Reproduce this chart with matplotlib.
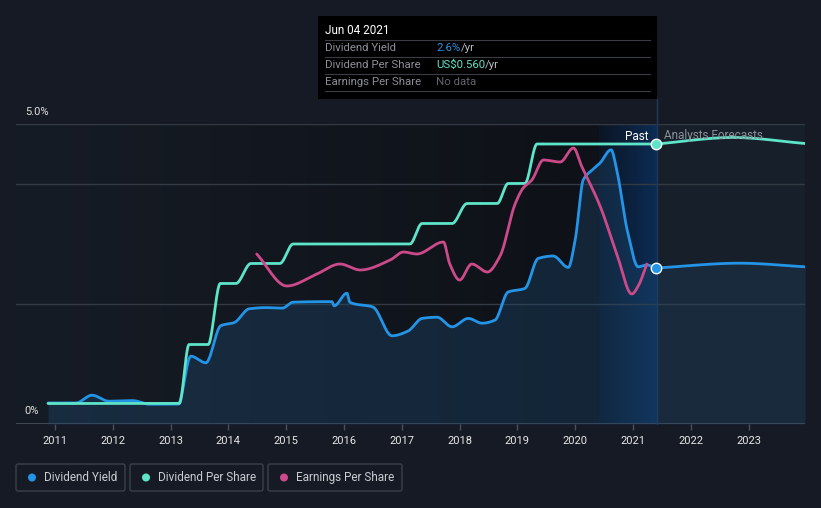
import numpy as np
import matplotlib
matplotlib.use('Agg')
import matplotlib.pyplot as plt
from matplotlib.patches import Rectangle, FancyBboxPatch, Circle

plt.rcParams['font.family'] = ['Roboto', 'DejaVu Sans']

# ---------------- data ----------------
yield_years = [2010.88, 2011.36, 2011.64, 2011.93, 2012.35, 2012.63, 2013.13, 2013.35,
               2013.61, 2013.87, 2014.10, 2014.36, 2014.65, 2014.93, 2015.12, 2015.79,
               2015.83, 2016.05, 2016.10, 2016.50, 2016.83, 2017.11, 2017.35, 2017.61,
               2017.87, 2018.15, 2018.39, 2018.61, 2018.84, 2019.13, 2019.36, 2019.62,
               2019.88, 2020.00, 2020.14, 2020.29, 2020.43, 2020.62, 2020.72, 2020.90,
               2021.09, 2021.24, 2021.40]
yield_pct = [0.35, 0.35, 0.48, 0.38, 0.39, 0.33, 0.33, 1.13,
             1.02, 1.64, 1.69, 1.92, 1.94, 1.93, 2.03, 2.04,
             1.97, 2.18, 2.03, 1.95, 1.47, 1.55, 1.76, 1.78,
             1.62, 1.76, 1.68, 1.73, 2.20, 2.26, 2.76, 2.80,
             2.61, 3.07, 4.07, 4.23, 4.35, 4.57, 4.23, 3.23,
             2.62, 2.65, 2.60]
yield_fc_years = [2021.40, 2022.85, 2023.98]
yield_fc = [2.60, 2.68, 2.62]

dps_years = [2010.88, 2013.15, 2013.32, 2013.65, 2013.86, 2014.13, 2014.39, 2014.89,
             2015.12, 2017.14, 2017.35, 2017.87, 2018.13, 2018.65, 2018.84, 2019.13,
             2019.34, 2021.40]
dps = [0.041, 0.041, 0.159, 0.159, 0.281, 0.281, 0.321, 0.321,
       0.360, 0.360, 0.401, 0.401, 0.441, 0.441, 0.481, 0.481,
       0.560, 0.560]
dps_fc_years = [2021.40, 2022.73, 2023.98]
dps_fc = [0.560, 0.573, 0.561]

eps_years = [2014.49, 2015.01, 2015.53, 2015.93, 2016.28, 2016.80, 2017.03, 2017.26,
             2017.72, 2017.83, 2018.00, 2018.21, 2018.48, 2018.70, 2018.96, 2019.10,
             2019.25, 2019.45, 2019.74, 2019.97, 2020.11, 2020.43, 2020.72, 2020.98,
             2021.09, 2021.24]
eps = [0.85, 0.69, 0.75, 0.80, 0.77, 0.82, 0.86, 0.85,
       0.91, 0.80, 0.72, 0.80, 0.76, 0.84, 1.10, 1.18,
       1.22, 1.32, 1.31, 1.38, 1.29, 1.09, 0.85, 0.65,
       0.69, 0.80]

year_ticks = list(range(2011, 2024))

# ---------------- helpers ----------------
def monotone(x, y, per=40):
    x = np.asarray(x, float); y = np.asarray(y, float)
    n = len(x)
    h = np.diff(x); d = np.diff(y) / h
    m = np.zeros(n)
    m[0] = d[0]; m[-1] = d[-1]
    for k in range(1, n - 1):
        if d[k - 1] * d[k] <= 0:
            m[k] = 0.0
        else:
            w1 = 2 * h[k] + h[k - 1]; w2 = h[k] + 2 * h[k - 1]
            m[k] = (w1 + w2) / (w1 / d[k - 1] + w2 / d[k])
    xs, ys = [], []
    for k in range(n - 1):
        t = np.linspace(0, 1, per, endpoint=(k == n - 2))
        h00 = 2 * t**3 - 3 * t**2 + 1; h10 = t**3 - 2 * t**2 + t
        h01 = -2 * t**3 + 3 * t**2; h11 = t**3 - t**2
        xs.append(x[k] + t * h[k])
        ys.append(h00 * y[k] + h10 * h[k] * m[k] + h01 * y[k + 1] + h11 * h[k] * m[k + 1])
    return np.concatenate(xs), np.concatenate(ys)

W, H = 821, 508
BG = '#151a24'
BLUE = '#2394e6'
TEAL = '#5ee4c8'
PINK = '#cc4a8a'

fig = plt.figure(figsize=(W / 100, H / 100), dpi=100, facecolor=BG)

def px2x(px):
    return 2011 + (px - 55) / 57.8

x0, x1 = px2x(16), px2x(805)
band0, band1 = px2x(599), px2x(657)

ax = fig.add_axes([16 / W, (H - 424) / H, (805 - 16) / W, 300 / H])
ax.set_facecolor('#171f2a')
for s in ax.spines.values():
    s.set_visible(False)

# backgrounds
past_grad = np.linspace(0, 1, 256)[None, :]
c_left = np.array([0x16, 0x1c, 0x26]) / 255
c_right = np.array([0x0e, 0x11, 0x17]) / 255
img = c_left[None, None, :] * (1 - past_grad[..., None]) + c_right[None, None, :] * past_grad[..., None]
ax.imshow(img, extent=[x0, band0, 0, 5], aspect='auto', zorder=0, interpolation='bicubic')
b_left = np.array([0x0b, 0x15, 0x24]) / 255
b_right = np.array([0x0c, 0x2c, 0x54]) / 255
img2 = b_left[None, None, :] * (1 - past_grad[..., None]) + b_right[None, None, :] * past_grad[..., None]
ax.imshow(img2, extent=[band0, band1, 0, 5], aspect='auto', zorder=0, interpolation='bicubic')

# gridlines
for g in [2.0, 4.0, 5.0]:
    ax.axhline(g, color='#343a43', lw=1, zorder=1)
ax.axhline(0, color='#4a4f58', lw=1.2, zorder=1)

# "now" vertical line (extends up to the tooltip)
ax.plot([band1, band1], [0, 5.42], color='#1d3a60', lw=1, zorder=1.5, clip_on=False)

# dividend yield
xs, ys = monotone(yield_years, yield_pct)
xf, yf = monotone(yield_fc_years, yield_fc)
ax.fill_between(xs, 0, ys, color='#1f4c75', alpha=0.35, lw=0, zorder=2)
ax.fill_between(xf, 0, yf, color='#1f4c75', alpha=0.25, lw=0, zorder=2)
ax.plot(xs, ys, color=BLUE, lw=2, zorder=5, solid_capstyle='round')
ax.plot(xf, yf, color=BLUE, lw=2, zorder=5, solid_capstyle='round')

ax.set_xlim(x0, x1)
ax.set_ylim(0, 5)
ax.set_yticks([])
ax.set_xticks(year_ticks)
ax.set_xticklabels([str(y) for y in year_ticks], color='#e8e8e8', fontsize=8)
ax.tick_params(axis='x', length=4, color='#4a4f58', pad=5, width=1)

# dividend per share
ax2 = ax.twinx()
ax2.patch.set_visible(False)
ax2.set_ylim(0, 0.6)
ax2.axis('off')
xd, yd = monotone(dps_years, dps)
xdf, ydf = monotone(dps_fc_years, dps_fc)
ax2.plot(xd, yd, color=TEAL, lw=2, zorder=5, solid_capstyle='round')
ax2.plot(xdf, ydf, color=TEAL, lw=2, zorder=5, solid_capstyle='round')

# earnings per share
ax3 = ax.twinx()
ax3.patch.set_visible(False)
ax3.set_ylim(0, 1.5)
ax3.axis('off')
xe, ye = monotone(eps_years, eps)
ax3.plot(xe, ye, color=PINK, lw=2, zorder=4, solid_capstyle='round')
ax3.set_xlim(x0, x1)
ax2.set_xlim(x0, x1)

# markers at latest point (drawn on the top-most twin so nothing covers them)
ax3.plot([yield_years[-1]], [yield_pct[-1]], 'o', ms=7.5, mfc=BLUE, mec='white', mew=1,
         zorder=8, transform=ax.transData)
ax3.plot([dps_years[-1]], [dps[-1]], 'o', ms=7.5, mfc=TEAL, mec='white', mew=1,
         zorder=8, transform=ax2.transData)

# ---------------- overlay in pixel coordinates ----------------
ov = fig.add_axes([0, 0, 1, 1], zorder=20)
ov.set_xlim(0, W); ov.set_ylim(H, 0); ov.axis('off')
ov.patch.set_visible(False)

ov.text(25, 112, '5.0%', color='#e0e0e0', fontsize=8, va='center', ha='left')
ov.text(24, 411, '0%', color='#e0e0e0', fontsize=8, va='center', ha='left')

ov.text(648, 136, 'Past', color='#ffffff', fontsize=8.5, va='center', ha='right')
ov.text(664, 136, 'Analysts Forecasts', color='#8d9299', fontsize=8.5, va='center', ha='left')

# tooltip
ov.add_patch(Rectangle((318, 16), 339, 83, facecolor='#000000', edgecolor='none', zorder=5))
ov.text(325, 31, 'Jun 04 2021', color='#ffffff', fontsize=8.5, va='center', ha='left', zorder=6)
for yy in [40, 57, 74, 91]:
    ov.plot([325, 650], [yy, yy], color='#3a3d43', lw=0.8, zorder=6)
rows = [('Dividend Yield', 48), ('Dividend Per Share', 65), ('Earnings Per Share', 82)]
for lab, yy in rows:
    ov.text(325, yy, lab, color='#8b9097', fontsize=8.2, va='center', ha='left', zorder=6)
ov.text(436, 48, '2.6%', color=BLUE, fontsize=8.2, va='center', ha='left', zorder=6)
ov.text(461, 48, '/yr', color='#b8bcc2', fontsize=8.2, va='center', ha='left', zorder=6)
ov.text(436, 65, 'US$0.560', color=TEAL, fontsize=8.2, va='center', ha='left', zorder=6)
ov.text(485, 65, '/yr', color='#b8bcc2', fontsize=8.2, va='center', ha='left', zorder=6)
ov.text(436, 82, 'No data', color='#62666d', fontsize=8.2, va='center', ha='left', zorder=6)

# legend
legend_items = [('Dividend Yield', BLUE, 16, 125), ('Dividend Per Share', TEAL, 130, 263),
                ('Earnings Per Share', PINK, 268, 402)]
for lab, col, lx0, lx1 in legend_items:
    ov.add_patch(FancyBboxPatch((lx0, 464), lx1 - lx0, 27,
                                boxstyle='round,pad=0,rounding_size=2',
                                facecolor='none', edgecolor='#3b4049', lw=1))
    ov.add_patch(Circle((lx0 + 16, 477.5), 4, facecolor=col, edgecolor='none'))
    ov.text(lx0 + 28, 477.5, lab, color='#c9ccd1', fontsize=8.5, va='center', ha='left')

fig.savefig('out.png', dpi=100, facecolor=BG)
